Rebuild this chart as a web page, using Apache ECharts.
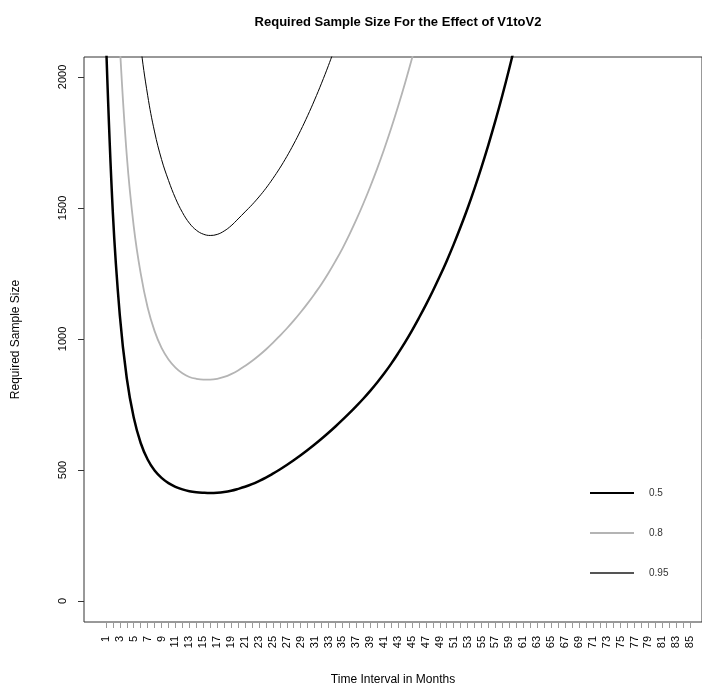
<!DOCTYPE html>
<html>
<head>
<meta charset="utf-8">
<script src="https://cdn.jsdelivr.net/npm/echarts@6/dist/echarts.min.js"></script>
<style>html,body{margin:0;background:#fff}#chart{width:702px;height:700px}</style>
</head>
<body>
<div id="chart"></div>
<script>
// months 1..85 on the x axis
const months = Array.from({ length: 85 }, (_, i) => i + 1);
const yTicks = [0, 500, 1000, 1500, 2000];

// power 0.5, starts at month 1
const power05 = [2150, 1480, 1090, 850, 700, 603, 540, 498, 470, 450,
  436, 426, 419, 415, 413, 412, 413, 416, 421, 428,
  436, 446, 458, 471, 486, 502, 519, 537, 556, 576,
  597, 619, 642, 666, 691, 717, 744, 772, 802, 834,
  868, 905, 945, 987, 1032, 1080, 1130, 1183, 1239, 1298,
  1361, 1428, 1499, 1575, 1656, 1742, 1833, 1930, 2033, 2142];
// power 0.8, starts at month 3
const power08 = [2120, 1700, 1430, 1250, 1120, 1030, 966, 922, 891, 869,
  855, 848, 845, 845, 848, 855, 866, 880, 897, 916,
  937, 960, 985, 1012, 1040, 1070, 1102, 1136, 1172, 1210,
  1252, 1297, 1345, 1398, 1455, 1516, 1581, 1650, 1724, 1803,
  1887, 1976, 2070, 2170];
// power 0.95, starts at month 5
const power095 = [2400, 2120, 1930, 1790, 1685, 1605, 1537, 1483, 1442, 1415,
  1400, 1395, 1399, 1412, 1432, 1458, 1485, 1512, 1542, 1575,
  1612, 1652, 1696, 1744, 1796, 1852, 1912, 1976, 2044, 2116];

function pairs(vals, start) {
  return vals.map((v, i) => [start + i, v]);
}

const chart = echarts.init(document.getElementById('chart'));
const font = 'Liberation Sans, Arial, sans-serif';

chart.setOption({
  animation: false,
  title: {
    text: 'Required Sample Size For the Effect of V1toV2',
    left: 393, top: 11, textAlign: 'center',
    textStyle: { fontFamily: font, fontSize: 13, fontWeight: 'bold', color: '#000' }
  },
  grid: { left: 84, right: -2, top: 57, bottom: 78, show: true, borderColor: '#333', borderWidth: 1 },
  legend: {
    orient: 'vertical', left: 585, top: 483, itemGap: 30,
    itemWidth: 44, itemHeight: 2, icon: 'rect',
    textStyle: { fontFamily: font, fontSize: 10, color: '#333', padding: [0, 0, 0, 10] },
    data: ['0.5', '0.8', '0.95']
  },
  xAxis: {
    type: 'value', min: -2.15, max: 86.7,
    name: 'Time Interval in Months', nameLocation: 'middle', nameGap: 52,
    nameTextStyle: { fontFamily: font, fontSize: 12, color: '#000' },
    axisLine: { show: false, onZero: false }, splitLine: { show: false },
    axisTick: { customValues: months, length: 6, inside: false, lineStyle: { color: '#999' } },
    axisLabel: {
      customValues: months.filter(m => m % 2 === 1), rotate: 90,
      fontFamily: font, fontSize: 11, color: '#000', margin: 14
    }
  },
  yAxis: {
    type: 'value', min: -80, max: 2076,
    name: 'Required Sample Size', nameLocation: 'middle', nameGap: 62,
    nameTextStyle: { fontFamily: font, fontSize: 12, color: '#000' },
    axisLine: { show: false, onZero: false }, splitLine: { show: false },
    axisTick: { customValues: yTicks, length: 6, inside: false, lineStyle: { color: '#333' } },
    axisLabel: {
      customValues: yTicks, rotate: 90, formatter: v => String(v),
      fontFamily: font, fontSize: 11, color: '#000', margin: 16
    }
  },
  series: [
    { name: '0.5', type: 'line', data: pairs(power05, 1), smooth: 0.4, showSymbol: false,
      lineStyle: { width: 2.5, color: '#000' }, itemStyle: { color: '#000' } },
    { name: '0.8', type: 'line', data: pairs(power08, 3), smooth: 0.4, showSymbol: false,
      lineStyle: { width: 1.8, color: '#b4b4b4' }, itemStyle: { color: '#b4b4b4' } },
    { name: '0.95', type: 'line', data: pairs(power095, 5), smooth: 0.4, showSymbol: false,
      lineStyle: { width: 1, color: '#000' }, itemStyle: { color: '#555' } }
  ]
});
</script>
</body>
</html>
